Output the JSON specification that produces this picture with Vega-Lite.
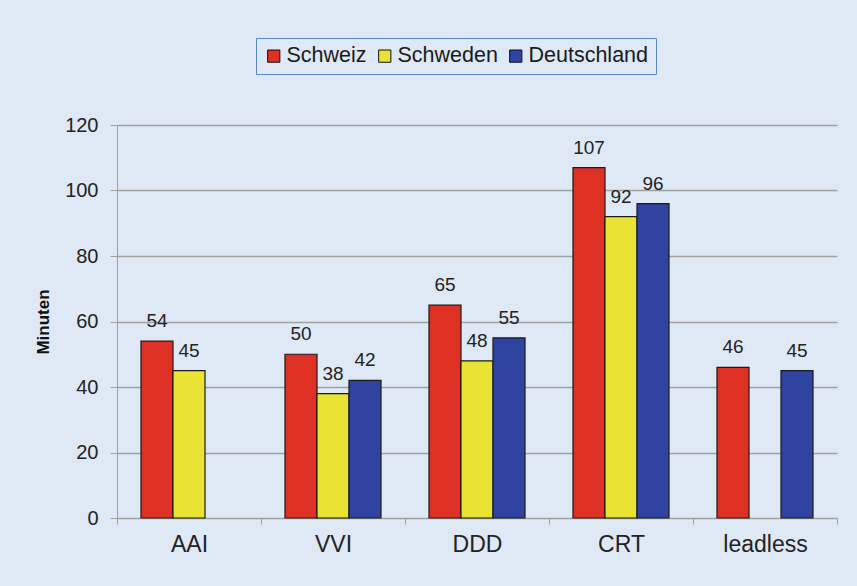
{
  "$schema": "https://vega.github.io/schema/vega-lite/v6.json",
  "width": 720,
  "height": 393,
  "autosize": {"type": "none"},
  "padding": {"left": 117, "top": 125, "right": 20, "bottom": 68},
  "background": "#dfe9f5",
  "config": {"view": {"stroke": null}, "font": "Liberation Sans"},
  "data": {
    "values": [
      {"Typ": "AAI", "Land": "Schweiz", "Minuten": 54},
      {"Typ": "AAI", "Land": "Schweden", "Minuten": 45},
      {"Typ": "VVI", "Land": "Schweiz", "Minuten": 50},
      {"Typ": "VVI", "Land": "Schweden", "Minuten": 38},
      {"Typ": "VVI", "Land": "Deutschland", "Minuten": 42},
      {"Typ": "DDD", "Land": "Schweiz", "Minuten": 65},
      {"Typ": "DDD", "Land": "Schweden", "Minuten": 48},
      {"Typ": "DDD", "Land": "Deutschland", "Minuten": 55},
      {"Typ": "CRT", "Land": "Schweiz", "Minuten": 107},
      {"Typ": "CRT", "Land": "Schweden", "Minuten": 92},
      {"Typ": "CRT", "Land": "Deutschland", "Minuten": 96},
      {"Typ": "leadless", "Land": "Schweiz", "Minuten": 46},
      {"Typ": "leadless", "Land": "Deutschland", "Minuten": 45}
    ]
  },
  "encoding": {
    "x": {
      "field": "Typ",
      "type": "nominal",
      "sort": ["AAI", "VVI", "DDD", "CRT", "leadless"],
      "scale": {"paddingInner": 0, "paddingOuter": 0},
      "axis": {
        "title": null,
        "labelAngle": 0,
        "tickBand": "extent",
        "domainColor": "#a0a0a0",
        "tickColor": "#a0a0a0",
        "tickSize": 6,
        "labelFontSize": 23,
        "labelColor": "#222222",
        "labelPadding": 9,
        "grid": false
      }
    },
    "xOffset": {
      "field": "Land",
      "type": "nominal",
      "scale": {"domain": ["Schweiz", "Schweden", "Deutschland"], "paddingInner": 0, "paddingOuter": 0.75}
    },
    "y": {
      "field": "Minuten",
      "type": "quantitative",
      "scale": {"domain": [0, 120], "nice": false},
      "axis": {
        "values": [0, 20, 40, 60, 80, 100, 120],
        "title": "Minuten",
        "titleFontSize": 17,
        "titleFontWeight": "bold",
        "titleColor": "#111111",
        "titlePadding": 12,
        "grid": true,
        "gridColor": "#a0a0a0",
        "gridWidth": 1.3,
        "domainColor": "#a0a0a0",
        "tickColor": "#a0a0a0",
        "tickSize": 7,
        "labelFontSize": 20,
        "labelPadding": 12,
        "labelColor": "#222222"
      }
    }
  },
  "layer": [
    {
      "mark": {"type": "bar", "stroke": "#1a1a1a", "strokeWidth": 1.2},
      "encoding": {
        "color": {
          "field": "Land",
          "type": "nominal",
          "scale": {"domain": ["Schweiz", "Schweden", "Deutschland"], "range": ["#de3124", "#ebe333", "#2f44a0"]},
          "legend": {
            "orient": "none",
            "legendX": 139,
            "legendY": -87,
            "direction": "horizontal",
            "title": null,
            "symbolType": "square",
            "symbolSize": 150,
            "symbolStrokeColor": "#111111",
            "symbolStrokeWidth": 1,
            "labelFontSize": 21.5,
            "labelColor": "#1a1a1a",
            "labelOffset": 2,
            "columnPadding": 7,
            "padding": 7,
            "strokeColor": "#5b88c8",
            "fillColor": "#dfe9f5"
          }
        }
      }
    },
    {
      "mark": {"type": "text", "dy": -14, "fontSize": 19, "color": "#222222", "baseline": "alphabetic"},
      "encoding": {"text": {"field": "Minuten", "type": "quantitative"}}
    }
  ]
}
